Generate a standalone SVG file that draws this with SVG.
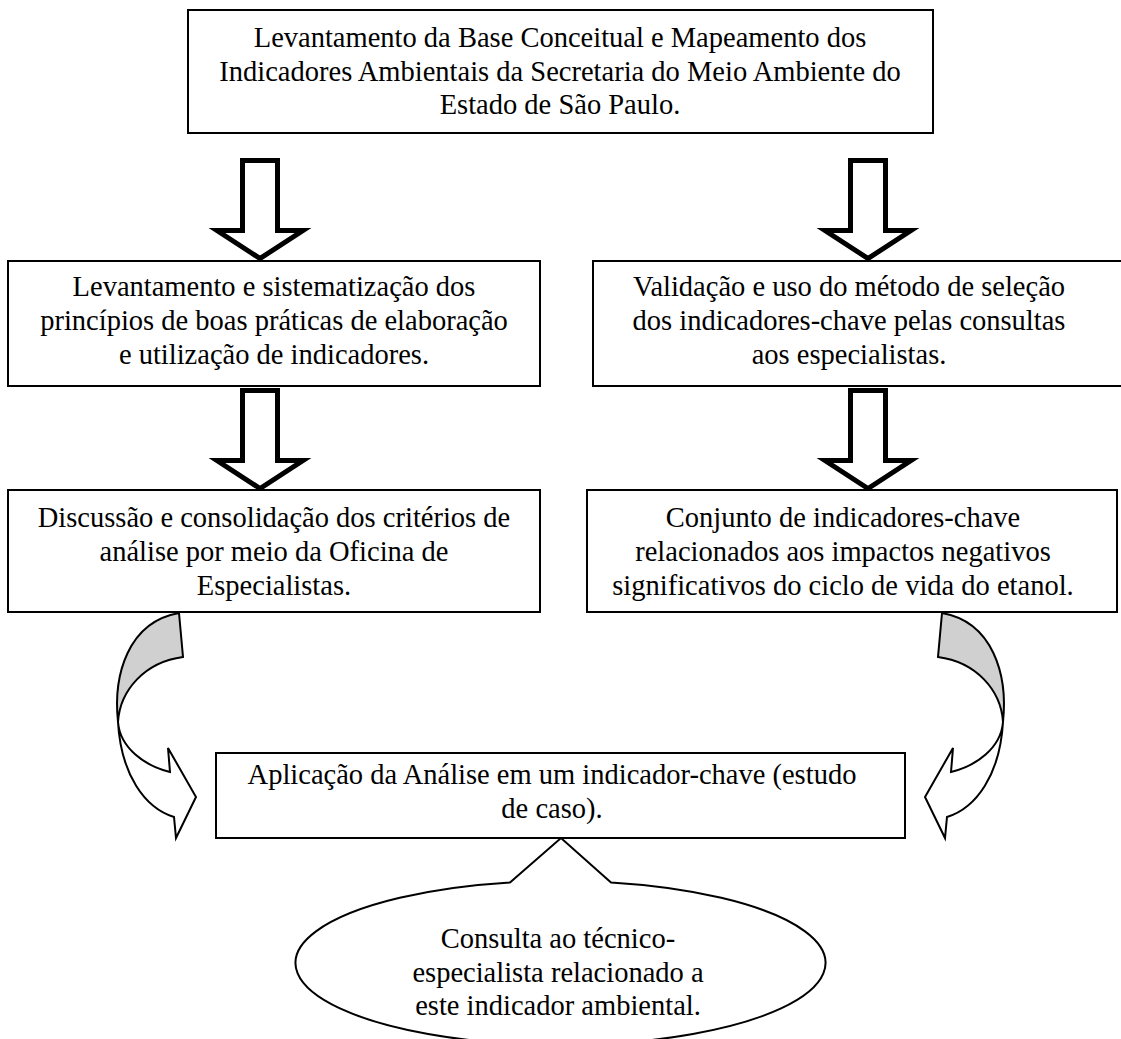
<svg xmlns="http://www.w3.org/2000/svg" width="1121" height="1039" viewBox="0 0 1121 1039">
<defs>
<style>
.box{fill:#fff;stroke:#000;stroke-width:2}
.t{font-family:"Liberation Serif","Times New Roman",serif;font-size:28.5px;fill:#000;text-anchor:middle}
.blk{fill:#fff;stroke:#000;stroke-width:5;stroke-linejoin:miter;stroke-miterlimit:6}
.cg{fill:#d0d0d0;stroke:#000;stroke-width:2;stroke-linejoin:miter}
.cw{fill:#fff;stroke:#000;stroke-width:2;stroke-linejoin:miter}
</style>
<polygon id="blockArrow" points="-17.5,0 17.5,0 17.5,70 43,70 0,98 -43,70 -17.5,70"/>
<g id="curvedArrow">
<path class="cg" d="M179,613 L183,657 C145,662 120,690 118,722 C113,675 128,622 179,613 Z"/>
<path class="cw" d="M118,722 C120,748 145,766 170,772 L168,748 L196,797 L176,838 L174,817 C145,808 121,775 118,722 Z"/>
</g>
</defs>
<rect width="1121" height="1039" fill="#fff"/>

<g id="connectors">
<use href="#blockArrow" class="blk" x="260" y="160.5"/>
<use href="#blockArrow" class="blk" x="868" y="160.5"/>
<use href="#blockArrow" class="blk" x="260" y="390.5"/>
<use href="#blockArrow" class="blk" x="868" y="390.5"/>
<use href="#curvedArrow"/>
<use href="#curvedArrow" transform="translate(1121,0) scale(-1,1)"/>
</g>

<g id="n1">
<rect class="box" x="188" y="10" width="745" height="123"/>
<text class="t" x="560" y="47">Levantamento da Base Conceitual e Mapeamento dos</text>
<text class="t" x="560" y="81">Indicadores Ambientais da Secretaria do Meio Ambiente do</text>
<text class="t" x="560" y="114">Estado de São Paulo.</text>
</g>

<g id="n2">
<rect class="box" x="8" y="261" width="532" height="125"/>
<text class="t" x="274" y="296">Levantamento e sistematização dos</text>
<text class="t" x="274" y="330">princípios de boas práticas de elaboração</text>
<text class="t" x="274" y="364">e utilização de indicadores.</text>
</g>

<g id="n3">
<rect class="box" x="593" y="261" width="540" height="125"/>
<text class="t" x="849" y="296">Validação e uso do método de seleção</text>
<text class="t" x="849" y="330">dos indicadores-chave pelas consultas</text>
<text class="t" x="849" y="364">aos especialistas.</text>
</g>

<g id="n4">
<rect class="box" x="8" y="490" width="532" height="122"/>
<text class="t" x="274" y="527">Discussão e consolidação dos critérios de</text>
<text class="t" x="274" y="561">análise por meio da Oficina de</text>
<text class="t" x="274" y="595">Especialistas.</text>
</g>

<g id="n5">
<rect class="box" x="587" y="490" width="530" height="122"/>
<text class="t" x="843" y="527">Conjunto de indicadores-chave</text>
<text class="t" x="843" y="561">relacionados aos impactos negativos</text>
<text class="t" x="843" y="595">significativos do ciclo de vida do etanol.</text>
</g>

<g id="n6">
<rect class="box" x="216" y="753" width="689" height="85"/>
<text class="t" x="552" y="784">Aplicação da Análise em um indicador-chave (estudo</text>
<text class="t" x="552" y="818">de caso).</text>
</g>

<g id="n7">
<path class="box" d="M510,882.5 L561,838 L611,882.5 A265,82 0 1 1 510,882.5 Z"/>
<text class="t" x="558" y="948">Consulta ao técnico-</text>
<text class="t" x="558" y="982">especialista relacionado a</text>
<text class="t" x="558" y="1015">este indicador ambiental.</text>
</g>
</svg>
